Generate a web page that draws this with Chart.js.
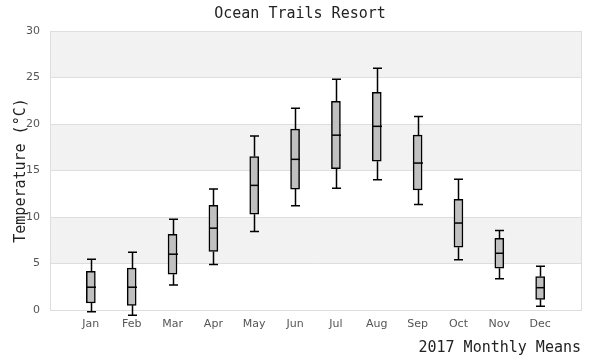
<!DOCTYPE html>
<html><head><meta charset="utf-8">
<script src="https://cdn.jsdelivr.net/npm/chart.js@4/dist/chart.umd.min.js"></script>
<style>html,body{margin:0;padding:0;background:#fff}</style>
</head><body>
<canvas id="c" width="600" height="360" style="width:600px;height:360px;display:block"></canvas>
<script>
const months = ['Jan','Feb','Mar','Apr','May','Jun','Jul','Aug','Sep','Oct','Nov','Dec'];
const whiskerLow  = [-0.2, -0.57, 2.7, 4.9, 8.45, 11.2, 13.1, 14.0, 11.35, 5.4, 3.35, 0.4];
const q1          = [0.75, 0.5, 3.85, 6.3, 10.3, 13.0, 15.2, 16.0, 12.9, 6.75, 4.5, 1.15];
const median      = [2.45, 2.45, 6.0, 8.8, 13.4, 16.2, 18.8, 19.75, 15.8, 9.35, 6.1, 2.4];
const q3          = [4.15, 4.5, 8.15, 11.25, 16.5, 19.45, 22.45, 23.4, 18.8, 11.9, 7.7, 3.6];
const whiskerHigh = [5.45, 6.2, 9.75, 13.0, 18.7, 21.7, 24.8, 26.0, 20.8, 14.05, 8.55, 4.7];
const yTicks = [0, 5, 10, 15, 20, 25, 30];
const titleText = 'Ocean Trails Resort';
const xTitle = '2017 Monthly Means';
const yTitle = 'Temperature (°C)';

const MONO = '"DejaVu Sans Mono", monospace';
const SANS = '"DejaVu Sans", sans-serif';
const GRID = '#dedede';
const BAND = '#f2f2f2';
const CAPW = 9;

const bandsPlugin = {
  id: 'bands',
  beforeDraw(chart) {
    const {ctx, chartArea: a, scales: {y}} = chart;
    ctx.save();
    ctx.fillStyle = BAND;
    for (let i = 0; i < yTicks.length - 1; i++) {
      if ((yTicks.length - 2 - i) % 2 === 0) {
        const top = y.getPixelForValue(yTicks[i + 1]);
        const bot = y.getPixelForValue(yTicks[i]);
        ctx.fillRect(a.left, top, a.right - a.left, bot - top);
      }
    }
    ctx.restore();
  },
  beforeDatasetsDraw(chart) {
    const {ctx, chartArea: a, scales: {x, y}} = chart;
    ctx.save();
    ctx.strokeStyle = GRID;
    ctx.lineWidth = 1;
    ctx.strokeRect(Math.round(a.left) + 0.5, Math.round(a.top) + 0.5, Math.round(a.right - a.left), Math.round(a.bottom - a.top));
    ctx.strokeStyle = '#000';
    ctx.lineWidth = 1.5;
    for (let i = 0; i < months.length; i++) {
      const cx = Math.round(x.getPixelForValue(i + 1)) + 0.5;
      const yl = y.getPixelForValue(whiskerLow[i]);
      const yq1 = y.getPixelForValue(q1[i]);
      const yq3 = y.getPixelForValue(q3[i]);
      const yh = y.getPixelForValue(whiskerHigh[i]);
      ctx.beginPath();
      ctx.moveTo(cx, yl); ctx.lineTo(cx, yq1);
      ctx.moveTo(cx, yq3); ctx.lineTo(cx, yh);
      ctx.moveTo(cx - CAPW / 2, yl); ctx.lineTo(cx + CAPW / 2, yl);
      ctx.moveTo(cx - CAPW / 2, yh); ctx.lineTo(cx + CAPW / 2, yh);
      ctx.stroke();
    }
    ctx.restore();
  },
  afterDatasetsDraw(chart) {
    const {ctx, scales: {x, y}} = chart;
    ctx.save();
    ctx.strokeStyle = '#000';
    ctx.lineWidth = 1.5;
    for (let i = 0; i < months.length; i++) {
      const cx = Math.round(x.getPixelForValue(i + 1)) + 0.5;
      const ym = y.getPixelForValue(median[i]);
      ctx.beginPath();
      ctx.moveTo(cx - CAPW / 2, ym); ctx.lineTo(cx + CAPW / 2, ym);
      ctx.stroke();
    }
    ctx.restore();
  }
};

new Chart(document.getElementById('c'), {
  type: 'bar',
  data: {
    datasets: [{
      data: months.map((m, i) => ({x: i + 1, y: [q1[i], q3[i]]})),
      backgroundColor: '#c0c0c0',
      borderColor: '#000',
      borderWidth: 1.5,
      borderSkipped: false,
      barThickness: CAPW
    }]
  },
  plugins: [bandsPlugin],
  options: {
    responsive: false,
    animation: false,
    layout: {padding: 0},
    plugins: {
      legend: {display: false},
      tooltip: {enabled: false},
      title: {
        display: true, text: titleText, color: '#222',
        font: {family: MONO, size: 15, weight: 'normal'},
        padding: {top: 5, bottom: 8}
      }
    },
    scales: {
      x: {
        type: 'linear', min: 0, max: 13, offset: false,
        afterBuildTicks(s) { s.ticks = months.map((m, i) => ({value: i + 1})); },
        afterFit(s) { s.height = 50; },
        ticks: {
          callback: v => months[v - 1] || '',
          color: '#555', font: {family: SANS, size: 11}, padding: 8,
          autoSkip: false, maxRotation: 0
        },
        grid: {display: false, drawTicks: false},
        border: {display: false},
        title: {
          display: true, text: xTitle, align: 'end', color: '#222',
          font: {family: MONO, size: 15}, padding: {top: 0, bottom: 3}
        }
      },
      y: {
        min: 0, max: 30,
        afterBuildTicks(s) { s.ticks = yTicks.map(v => ({value: v})); },
        afterFit(s) { s.width = 50; },
        ticks: {color: '#555', font: {family: SANS, size: 11}, padding: 10},
        grid: {color: GRID, drawTicks: false, lineWidth: 1},
        border: {display: false},
        title: {
          display: true, text: yTitle, color: '#222',
          font: {family: MONO, size: 15}, padding: {top: 12, bottom: 0}
        }
      },
      yRight: {
        position: 'right', min: 0, max: 30, display: true,
        afterFit(s) { s.width = 19; },
        ticks: {display: false},
        grid: {display: false, drawTicks: false},
        border: {display: false}
      }
    }
  }
});
</script>
</body></html>
